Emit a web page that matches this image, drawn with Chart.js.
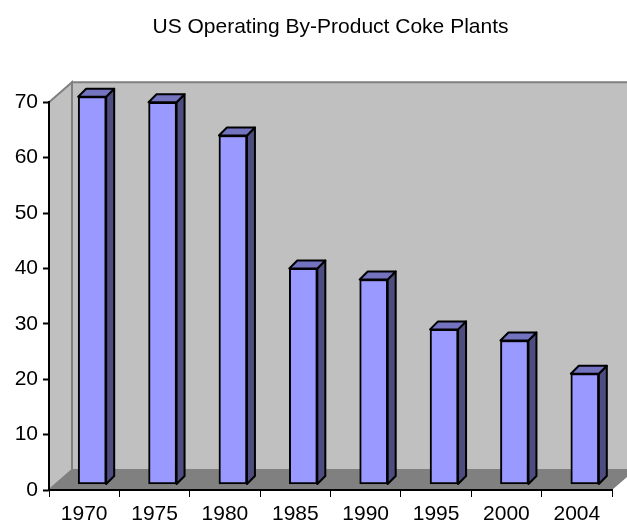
<!DOCTYPE html>
<html>
<head>
<meta charset="utf-8">
<title>US Operating By-Product Coke Plants</title>
<script src="https://cdn.jsdelivr.net/npm/chart.js@4"></script>
<style>
  html, body { margin: 0; padding: 0; background: #fff; }
  canvas { display: block; }
</style>
</head>
<body>
<canvas id="myChart" width="627" height="525"></canvas>
<script>
const years = ['1970', '1975', '1980', '1985', '1990', '1995', '2000', '2004'];
const plants = [70, 69, 63, 39, 37, 28, 26, 20];
const tickValues = [0, 10, 20, 30, 40, 50, 60, 70];

// Profundidad de las paredes y de las barras (efecto 3D)
const wallDx = 23, wallDy = 20;
const barDx = 8, barDy = 8;
const barShiftX = 8, barShiftY = -5.5;

function poly(ctx, pts, fill, stroke, lw) {
    ctx.beginPath();
    pts.forEach((p, i) => i ? ctx.lineTo(p[0], p[1]) : ctx.moveTo(p[0], p[1]));
    ctx.closePath();
    ctx.fillStyle = fill;
    ctx.fill();
    if (stroke) {
        ctx.strokeStyle = stroke;
        ctx.lineWidth = lw;
        ctx.stroke();
    }
}

const box3d = {
    id: 'box3d',
    // Paredes y suelo
    beforeDraw(chart) {
        const { ctx, chartArea: a } = chart;
        ctx.save();
        poly(ctx, [[a.left + wallDx, a.top - wallDy], [a.right + wallDx, a.top - wallDy],
                   [a.right + wallDx, a.bottom - wallDy], [a.left + wallDx, a.bottom - wallDy]],
             '#C0C0C0', '#808080', 2);
        poly(ctx, [[a.left, a.top], [a.left + wallDx, a.top - wallDy],
                   [a.left + wallDx, a.bottom - wallDy], [a.left, a.bottom]],
             '#C0C0C0', '#808080', 2);
        poly(ctx, [[a.left, a.bottom], [a.left + wallDx, a.bottom - wallDy],
                   [a.right + wallDx, a.bottom - wallDy], [a.right, a.bottom]],
             '#808080');
        ctx.restore();
    },
    // Caras lateral y superior de cada barra, luego se desplaza la cara frontal
    beforeDatasetDraw(chart, args) {
        const { ctx } = chart;
        ctx.save();
        ctx.translate(barShiftX, barShiftY);
        ctx.lineJoin = 'round';
        args.meta.data.forEach(bar => {
            const l = bar.x - bar.width / 2, r = bar.x + bar.width / 2;
            poly(ctx, [[r, bar.y], [r + barDx, bar.y - barDy], [r + barDx, bar.base - barDy], [r, bar.base]],
                 '#4D4D80', '#000', 2);
            poly(ctx, [[l, bar.y], [l + barDx, bar.y - barDy], [r + barDx, bar.y - barDy], [r, bar.y]],
                 '#7373BF', '#000', 2);
        });
    },
    afterDatasetDraw(chart) {
        chart.ctx.restore();
    }
};

new Chart(document.getElementById('myChart').getContext('2d'), {
    type: 'bar',
    data: {
        labels: years,
        datasets: [{
            data: plants,
            backgroundColor: '#9999FF',
            borderColor: '#000',
            borderWidth: 2,
            borderSkipped: false,
            barThickness: 28,
            clip: false
        }]
    },
    options: {
        responsive: false,
        animation: false,
        layout: { padding: { left: 0, right: 15, top: 0, bottom: 0 } },
        plugins: {
            legend: { display: false },
            tooltip: { enabled: false },
            title: {
                display: true,
                text: 'US Operating By-Product Coke Plants',
                fullSize: false,
                color: '#000',
                font: { family: '"Liberation Sans", Arial, sans-serif', size: 21, weight: 'normal' },
                padding: { top: 15, bottom: 62 }
            }
        },
        scales: {
            x: {
                afterFit(scale) { scale.height = 35; },
                border: { color: '#000', width: 2 },
                grid: { drawOnChartArea: false, color: '#000', tickLength: 7, tickWidth: 1 },
                ticks: {
                    color: '#000',
                    maxRotation: 0,
                    padding: 5,
                    font: { family: '"Liberation Sans", Arial, sans-serif', size: 21 }
                }
            },
            y: {
                min: 0,
                max: 70,
                afterFit(scale) { scale.width = 49; },
                afterBuildTicks(scale) { scale.ticks = tickValues.map(v => ({ value: v })); },
                border: { color: '#000', width: 2 },
                grid: { drawOnChartArea: false, color: '#000', tickLength: 6, tickWidth: 2 },
                ticks: {
                    color: '#000',
                    padding: 5,
                    font: { family: '"Liberation Sans", Arial, sans-serif', size: 21 }
                }
            }
        }
    },
    plugins: [box3d]
});
</script>
</body>
</html>
